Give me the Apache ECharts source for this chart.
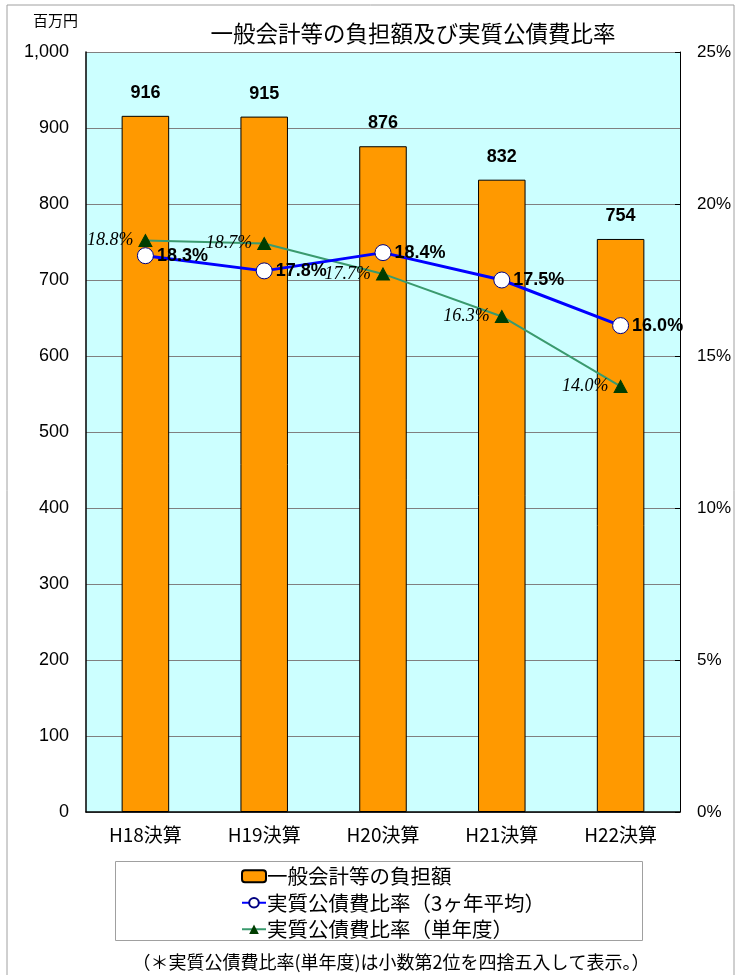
<!DOCTYPE html>
<html>
<head>
<meta charset="utf-8">
<script src="https://cdn.jsdelivr.net/npm/echarts@6/dist/echarts.min.js"></script>
<style>
html,body{margin:0;padding:0;background:#fff;}
#chart{width:744px;height:975px;}
</style>
</head>
<body>
<div id="chart"></div>
<script>
const categories = ['H18決算','H19決算','H20決算','H21決算','H22決算'];
const burden = [916, 915, 876, 832, 754];
const ratio3yr = [18.3, 17.8, 18.4, 17.5, 16.0];
const ratioSingle = [18.8, 18.7, 17.7, 16.3, 14.0];
const seriesNames = ['一般会計等の負担額','実質公債費比率（3ヶ年平均）','実質公債費比率（単年度）'];
const titleText = '一般会計等の負担額及び実質公債費比率';
const unitText = '百万円';
const noteText = '（＊実質公債費比率(単年度)は小数第2位を四捨五入して表示。）';

const NUM = "'Liberation Sans Narrow','Liberation Sans',Arial,sans-serif";
const CJK = "'Noto Sans CJK JP',sans-serif";

const chart = echarts.init(document.getElementById('chart'), null, {renderer:'canvas'});
chart.setOption({
  backgroundColor:'#ffffff',
  animation:false,
  title:{
    text:titleText, left:408, top:17, textAlign:'center',
    textStyle:{fontFamily:CJK, fontSize:22.5, fontWeight:'normal', color:'#000'}
  },
  graphic:[
    {type:'rect', shape:{x:7,y:5,width:727,height:990}, style:{fill:'none', stroke:'#a0a0a0', lineWidth:1}, z:0},
    {type:'text', left:33, top:13, style:{text:unitText, font:"15px 'Noto Sans CJK JP'", fill:'#000'}},
    {type:'rect', shape:{x:115.5,y:861.5,width:527,height:79}, style:{fill:'none', stroke:'#a0a0a0', lineWidth:1}},
    {type:'text', x:391, y:962, style:{text:noteText, font:"18px 'Noto Sans CJK JP'", fill:'#000', textAlign:'center', textVerticalAlign:'middle'}}
  ],
  legend:{
    orient:'vertical', left:236, top:861, itemGap:6, itemWidth:24, itemHeight:12,
    textStyle:{fontFamily:CJK, fontSize:20.5, color:'#000', padding:[0,0,0,-4]},
    data:seriesNames
  },
  grid:{left:86, right:64, top:52, bottom:163, show:true, backgroundColor:'#CCFFFF', borderWidth:0},
  xAxis:{
    type:'category', data:categories,
    axisLine:{lineStyle:{color:'#000', width:1.5}},
    axisTick:{inside:true, length:5, lineStyle:{color:'#909090'}},
    axisLabel:{fontFamily:CJK, fontSize:19, color:'#000', margin:13}
  },
  yAxis:[
    {type:'value', min:0, max:1000, interval:100,
     axisLine:{show:true, lineStyle:{color:'#000', width:1.5}},
     axisTick:{show:false},
     splitLine:{lineStyle:{color:'#808080', width:1}},
     axisLabel:{fontFamily:NUM, fontSize:18, color:'#000', margin:17,
       formatter:v=>v.toLocaleString('en-US')}
    },
    {type:'value', min:0, max:25, interval:5,
     axisLine:{show:true, lineStyle:{color:'#000', width:1}},
     axisTick:{show:true, inside:true, length:5, lineStyle:{color:'#000'}},
     splitLine:{show:false},
     axisLabel:{fontFamily:NUM, fontSize:17, color:'#000', margin:17, formatter:'{value}%'}
    }
  ],
  series:[
    {name:seriesNames[0], type:'bar', data:burden, barWidth:'40%', yAxisIndex:0,
     itemStyle:{color:'#FF9900', borderColor:'#000', borderWidth:1},
     label:{show:true, position:'top', distance:14, fontFamily:NUM, fontWeight:'bold', fontSize:18, color:'#000'},
     z:2},
    {name:seriesNames[2], type:'line', data:ratioSingle, yAxisIndex:1,
     symbol:'triangle', symbolSize:[13,12],
     lineStyle:{color:'#3A9A6E', width:2},
     itemStyle:{color:'#003D00', borderColor:'#003D00'},
     label:{show:true, position:'left', distance:5, fontFamily:"'Liberation Serif','Times New Roman',serif", fontStyle:'italic', fontSize:18, color:'#000',
       formatter:p=>p.value.toFixed(1)+'%'},
     z:3},
    {name:seriesNames[1], type:'line', data:ratio3yr, yAxisIndex:1,
     symbol:'circle', symbolSize:16,
     lineStyle:{color:'#0000FF', width:3},
     itemStyle:{color:'#FFFFFF', borderColor:'#000080', borderWidth:1},
     label:{show:true, position:'right', distance:3, fontFamily:NUM, fontWeight:'bold', fontSize:18, color:'#000',
       formatter:p=>p.value.toFixed(1)+'%'},
     z:4}
  ]
});
</script>
</body>
</html>
